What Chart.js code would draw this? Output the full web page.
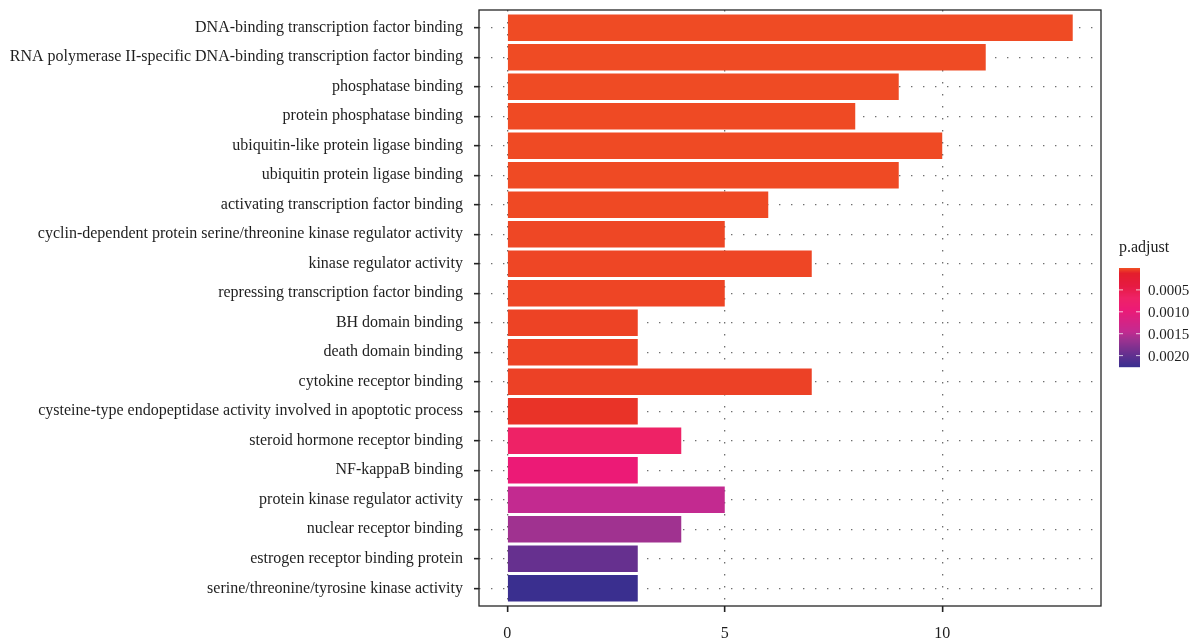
<!DOCTYPE html>
<html>
<head>
<meta charset="utf-8">
<script src="https://cdn.jsdelivr.net/npm/chart.js@4.4.1/dist/chart.umd.min.js"></script>
<style>
  html, body { margin: 0; padding: 0; background: #ffffff; }
  #wrap { width: 1202px; height: 642px; position: relative; }
</style>
</head>
<body>
<div id="wrap"><canvas id="chart" width="1202" height="642"></canvas></div>
<script>
// GO molecular function terms, top to bottom
const categories = [
  'DNA-binding transcription factor binding',
  'RNA polymerase II-specific DNA-binding transcription factor binding',
  'phosphatase binding',
  'protein phosphatase binding',
  'ubiquitin-like protein ligase binding',
  'ubiquitin protein ligase binding',
  'activating transcription factor binding',
  'cyclin-dependent protein serine/threonine kinase regulator activity',
  'kinase regulator activity',
  'repressing transcription factor binding',
  'BH domain binding',
  'death domain binding',
  'cytokine receptor binding',
  'cysteine-type endopeptidase activity involved in apoptotic process',
  'steroid hormone receptor binding',
  'NF-kappaB binding',
  'protein kinase regulator activity',
  'nuclear receptor binding',
  'estrogen receptor binding protein',
  'serine/threonine/tyrosine kinase activity'
];

// gene counts per term
const counts = [13, 11, 9, 8, 10, 9, 6, 5, 7, 5, 3, 3, 7, 3, 4, 3, 5, 4, 3, 3];

// adjusted p-values per term
const pAdjust = [
  0.0000002, 0.0000004, 0.0000011, 0.0000016, 0.0000020, 0.0000034, 0.0000052,
  0.0000110, 0.0000130, 0.0000150, 0.0000210, 0.0000210, 0.0000260, 0.0000600,
  0.00068, 0.00095, 0.00145, 0.00163, 0.00197, 0.00226
];

// x axis tick values and legend tick values
const xTicks = [0, 5, 10];
const legendTicks = [0.0005, 0.0010, 0.0015, 0.0020];

// fill colour ramp for p.adjust (position 0..1 over the data range)
const rampStops = [
  [0.00, [239, 75, 36]],
  [0.05, [228, 30, 44]],
  [0.18, [230, 26, 66]],
  [0.30, [238, 34, 102]],
  [0.42, [236, 26, 118]],
  [0.64, [196, 42, 144]],
  [0.72, [160, 50, 144]],
  [0.87, [103, 48, 143]],
  [1.00, [58, 47, 143]]
];

const pMin = Math.min(...pAdjust);
const pMax = Math.max(...pAdjust);

function rampColour(t) {
  t = Math.max(0, Math.min(1, t));
  for (let i = 1; i < rampStops.length; i++) {
    const [t1, c1] = rampStops[i];
    const [t0, c0] = rampStops[i - 1];
    if (t <= t1) {
      const f = (t - t0) / (t1 - t0);
      const c = c0.map((v, k) => Math.round(v + (c1[k] - v) * f));
      return `rgb(${c[0]},${c[1]},${c[2]})`;
    }
  }
  const c = rampStops[rampStops.length - 1][1];
  return `rgb(${c[0]},${c[1]},${c[2]})`;
}
function pColour(p) { return rampColour((p - pMin) / (pMax - pMin)); }

const FONT = "'Liberation Serif', 'DejaVu Serif', serif";
const TEXT = '#1e1e1e';

// panel frame around the plotting area
const panelFrame = {
  id: 'panelFrame',
  afterDatasetsDraw(chart) {
    const { ctx, chartArea: a } = chart;
    ctx.save();
    ctx.strokeStyle = '#262626';
    ctx.lineWidth = 1.3;
    ctx.strokeRect(a.left, a.top, a.right - a.left, a.bottom - a.top);
    ctx.restore();
  }
};

// continuous colour bar legend for p.adjust
const colourBar = {
  id: 'colourBar',
  afterDraw(chart) {
    const { ctx, chartArea: a } = chart;
    const x = a.right + 18, w = 21;
    const top = 268, h = 99;
    ctx.save();
    ctx.fillStyle = TEXT;
    ctx.font = `16px ${FONT}`;
    ctx.textAlign = 'left';
    ctx.textBaseline = 'alphabetic';
    ctx.fillText('p.adjust', x, 252);

    for (let i = 0; i < h; i++) {
      const t = i / (h - 1);
      ctx.fillStyle = rampColour(t);
      ctx.fillRect(x, top + i, w, 1.2);
    }
    ctx.font = `15px ${FONT}`;
    ctx.textBaseline = 'middle';
    legendTicks.forEach(v => {
      const y = top + (v - pMin) / (pMax - pMin) * h;
      ctx.strokeStyle = 'rgba(255,255,255,0.75)';
      ctx.lineWidth = 1;
      ctx.beginPath();
      ctx.moveTo(x, y); ctx.lineTo(x + 4, y);
      ctx.moveTo(x + w - 4, y); ctx.lineTo(x + w, y);
      ctx.stroke();
      ctx.fillStyle = TEXT;
      ctx.fillText(v.toFixed(4), x + w + 8, y + 1);
    });
    ctx.restore();
  }
};

const points = categories.map((c, i) => ({ x: counts[i], y: i }));

new Chart(document.getElementById('chart'), {
  type: 'bar',
  data: {
    datasets: [{
      data: points,
      backgroundColor: pAdjust.map(pColour),
      borderWidth: 0,
      barPercentage: 0.9,
      categoryPercentage: 1.0
    }]
  },
  options: {
    indexAxis: 'y',
    responsive: false,
    animation: false,
    events: [],
    layout: { padding: { top: 10, right: 101, bottom: 0, left: 0 } },
    plugins: { legend: { display: false }, tooltip: { enabled: false } },
    scales: {
      x: {
        type: 'linear',
        min: -0.65,
        max: 13.65,
        afterBuildTicks(scale) { scale.ticks = xTicks.map(v => ({ value: v })); },
        afterFit(scale) { scale.height = 36; scale.paddingLeft = 0; scale.paddingRight = 0; },
        ticks: {
          color: TEXT,
          font: { family: FONT, size: 16 },
          padding: 12,
          maxRotation: 0,
          callback: v => String(v)
        },
        grid: {
          color: '#6e6e6e',
          lineWidth: 1.3,
          tickColor: '#222',
          tickWidth: 1.6,
          tickLength: 6,
          tickBorderDash: []
        },
        border: { display: false, dash: [1.4, 10.6] }
      },
      y: {
        type: 'linear',
        reverse: true,
        offset: false,
        min: -0.6,
        max: 19.6,
        afterBuildTicks(scale) { scale.ticks = categories.map((c, i) => ({ value: i })); },
        afterFit(scale) { scale.width = 479; scale.paddingTop = 0; scale.paddingBottom = 0; },
        ticks: {
          color: TEXT,
          font: { family: FONT, size: 16 },
          padding: 11,
          autoSkip: false,
          callback: v => categories[v]
        },
        grid: {
          offset: false,
          color: '#6e6e6e',
          lineWidth: 1.3,
          tickColor: '#222',
          tickWidth: 1.6,
          tickLength: 5,
          tickBorderDash: []
        },
        border: { display: false, dash: [1.4, 10.6] }
      }
    }
  },
  plugins: [panelFrame, colourBar]
});
</script>
</body>
</html>
